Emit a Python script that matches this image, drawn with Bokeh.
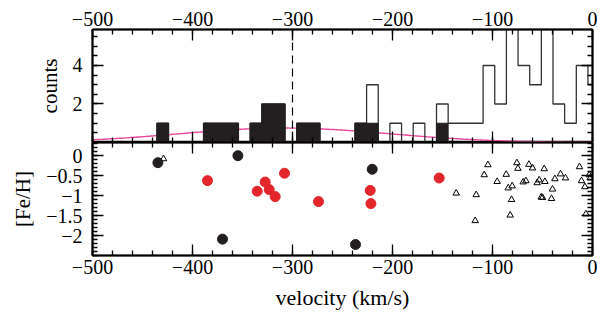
import numpy as np
from bokeh.plotting import figure
from bokeh.layouts import column
from bokeh.models import FixedTicker, LinearAxis, CustomJSTickFormatter, Range1d, Span
from bokeh.embed import file_html
from bokeh.resources import INLINE

# ---------------- data ----------------
# histogram of velocities (km/s): first bin edge and bin width, counts per bin
hist_first_edge = -435.6
hist_bin_width = 11.65
hist_total = [1, 0, 0, 0, 1, 1, 1, 0, 1, 2, 2, 0, 1, 1, 0, 0, 0, 1, 3, 0,
              1, 0, 1, 0, 2, 1, 1, 1, 4, 2, 6, 4, 3, 6, 2, 1, 4, 3]
hist_halo = [1, 0, 0, 0, 1, 1, 1, 0, 1, 2, 2, 0, 1, 1, 0, 0, 0, 1, 1, 0,
             0, 0, 0, 0, 1, 0, 0, 0, 0, 0, 0, 0, 0, 0, 0, 0, 0, 0]

# Gaussian model of the halo component
gauss_mean = -308.0
gauss_sigma = 105.0
gauss_amp = 0.75

# [Fe/H] vs velocity
black_v = [-434.6, -354.6, -370.0, -220.3, -237.0]
black_feh = [-0.175, 0.0, -2.09, -0.34, -2.225]
red_v = [-385.0, -308.0, -327.3, -335.3, -323.3, -317.3, -274.0, -222.3, -221.6, -153.3]
red_feh = [-0.625, -0.44, -0.66, -0.89, -0.85, -1.025, -1.15, -0.87, -1.2, -0.56]
tri_v = [-429.0, -104.6, -108.3, -136.3, -116.3, -117.3, -95.3, -86.3, -75.6, -74.6,
         -84.3, -80.3, -81.0, -82.3, -63.6, -60.0, -69.3, -66.6, -55.3, -53.3,
         -47.6, -48.3, -40.0, -50.0, -51.3, -41.0, -37.6, -32.0, -27.0, -13.0,
         -11.0, -7.6, -3.3, -2.3, -6.6]
tri_feh = [-0.08, -0.23, -0.48, -0.94, -0.98, -1.63, -0.65, -0.47, -0.18, -0.32,
           -0.81, -0.76, -1.10, -1.49, -0.22, -0.31, -0.66, -0.63, -0.68, -0.61,
           -0.65, -0.33, -0.84, -1.05, -1.04, -1.075, -0.58, -0.46, -0.56, -0.28,
           -0.63, -0.78, -0.48, -0.56, -1.46]

x_major = [-500, -400, -300, -200, -100, 0]
x_minor = list(range(-500, 1, 20))
counts_major = [2, 4]
counts_minor = [i * 0.5 for i in range(0, 13)]
feh_major = [0, -0.5, -1, -1.5, -2]
feh_minor = [round(-0.1 * i, 1) for i in range(0, 26)] + [0.1, 0.2, 0.3]

# ---------------- style ----------------
FONT = "Liberation Serif"
TICK_SIZE = "20px"
LABEL_SIZE = "21px"
INK = "#231f20"

fmt = CustomJSTickFormatter(code="""
    if (tick < 0) { return "\u2212" + Math.abs(tick).toString(); }
    return tick.toString();
""")


def style_axis(ax, ticker, labels, label_text=None, standoff=6, label_size=LABEL_SIZE):
    ax.ticker = ticker
    ax.major_tick_in = 11
    ax.major_tick_out = 0
    ax.minor_tick_in = 5
    ax.minor_tick_out = 0
    ax.axis_line_width = 2
    ax.axis_line_color = "black"
    ax.major_tick_line_color = "black"
    ax.minor_tick_line_color = "black"
    ax.major_tick_line_width = 1.3
    ax.minor_tick_line_width = 1.3
    if labels:
        ax.formatter = fmt
        ax.major_label_text_font = FONT
        ax.major_label_text_font_size = TICK_SIZE
        ax.major_label_text_color = "black"
        ax.major_label_standoff = standoff
    else:
        ax.major_label_text_font_size = "0px"
        ax.major_label_standoff = 0
    if label_text:
        ax.axis_label = label_text
        ax.axis_label_text_font = FONT
        ax.axis_label_text_font_size = label_size
        ax.axis_label_text_font_style = "normal"
        ax.axis_label_text_color = "black"
        ax.axis_label_standoff = 8


def make_fig(height, y_range, top, bottom, x_loc):
    p = figure(width=605, height=height, x_range=Range1d(-500, 0), y_range=y_range,
               x_axis_location=x_loc, output_backend="svg", toolbar_location=None,
               min_border_left=92, min_border_right=13,
               min_border_top=top, min_border_bottom=bottom)
    p.grid.visible = False
    p.outline_line_color = "black"
    p.outline_line_width = 1.5
    p.background_fill_color = "white"
    p.border_fill_color = "white"
    return p


xt = FixedTicker(ticks=x_major, minor_ticks=x_minor)

# ---------------- top panel: histogram ----------------
p1 = make_fig(142, Range1d(0, 5.87), 29, 0, "above")
style_axis(p1.xaxis[0], xt, True, standoff=4)
style_axis(p1.yaxis[0], FixedTicker(ticks=counts_major, minor_ticks=counts_minor), True,
           label_text="counts", standoff=10)
ax_b = LinearAxis()
p1.add_layout(ax_b, "below")
style_axis(ax_b, FixedTicker(ticks=x_major, minor_ticks=x_minor), False)
ax_r = LinearAxis()
p1.add_layout(ax_r, "right")
style_axis(ax_r, FixedTicker(ticks=counts_major, minor_ticks=counts_minor), False)

edges = hist_first_edge + hist_bin_width * np.arange(len(hist_total) + 1)
lefts, rights = edges[:-1], edges[1:]

# gaussian model
gx = np.linspace(-500, 0, 300)
gy = gauss_amp * np.exp(-0.5 * ((gx - gauss_mean) / gauss_sigma) ** 2)
p1.line(gx, gy, line_color="#e8489c", line_width=1.4)

# open histogram outline (all stars)
sx, sy = [edges[0]], [0]
for l, r, c in zip(lefts, rights, hist_total):
    sx += [l, r]
    sy += [c, c]
sx.append(edges[-1]); sy.append(0)
p1.line(sx, sy, line_color="#333333", line_width=1.3)

# filled histogram (halo stars)
hl = [l for l, c in zip(lefts, hist_halo) if c > 0]
hr = [r for r, c in zip(rights, hist_halo) if c > 0]
hc = [c for c in hist_halo if c > 0]
p1.quad(left=hl, right=hr, bottom=0, top=hc, fill_color=INK, line_color=INK, line_width=1)

p1.add_layout(Span(location=-300, dimension="height", line_color="black",
                   line_dash="8 5", line_width=1.2))

# ---------------- bottom panel: [Fe/H] ----------------
p2 = make_fig(178, Range1d(-2.5, 0.33), 0, 65, "below")
style_axis(p2.xaxis[0], xt, True, label_text="velocity (km/s)", standoff=4, label_size="22px")
style_axis(p2.yaxis[0], FixedTicker(ticks=feh_major, minor_ticks=feh_minor), True,
           label_text="[Fe/H]", standoff=10)
ax_t = LinearAxis()
p2.add_layout(ax_t, "above")
style_axis(ax_t, FixedTicker(ticks=x_major, minor_ticks=x_minor), False)
ax_r2 = LinearAxis()
p2.add_layout(ax_r2, "right")
style_axis(ax_r2, FixedTicker(ticks=feh_major, minor_ticks=feh_minor), False)

p2.scatter(tri_v, tri_feh, marker="triangle", size=6.5, fill_color=None,
           line_color="black", line_width=1)
p2.scatter(black_v, black_feh, marker="circle", size=10, fill_color=INK, line_color=INK)
p2.scatter(red_v, red_feh, marker="circle", size=10, fill_color="#e3262b", line_color="#e3262b")

layout = column(p1, p2, spacing=0)
open("out.html", "w").write(file_html(layout, INLINE))
